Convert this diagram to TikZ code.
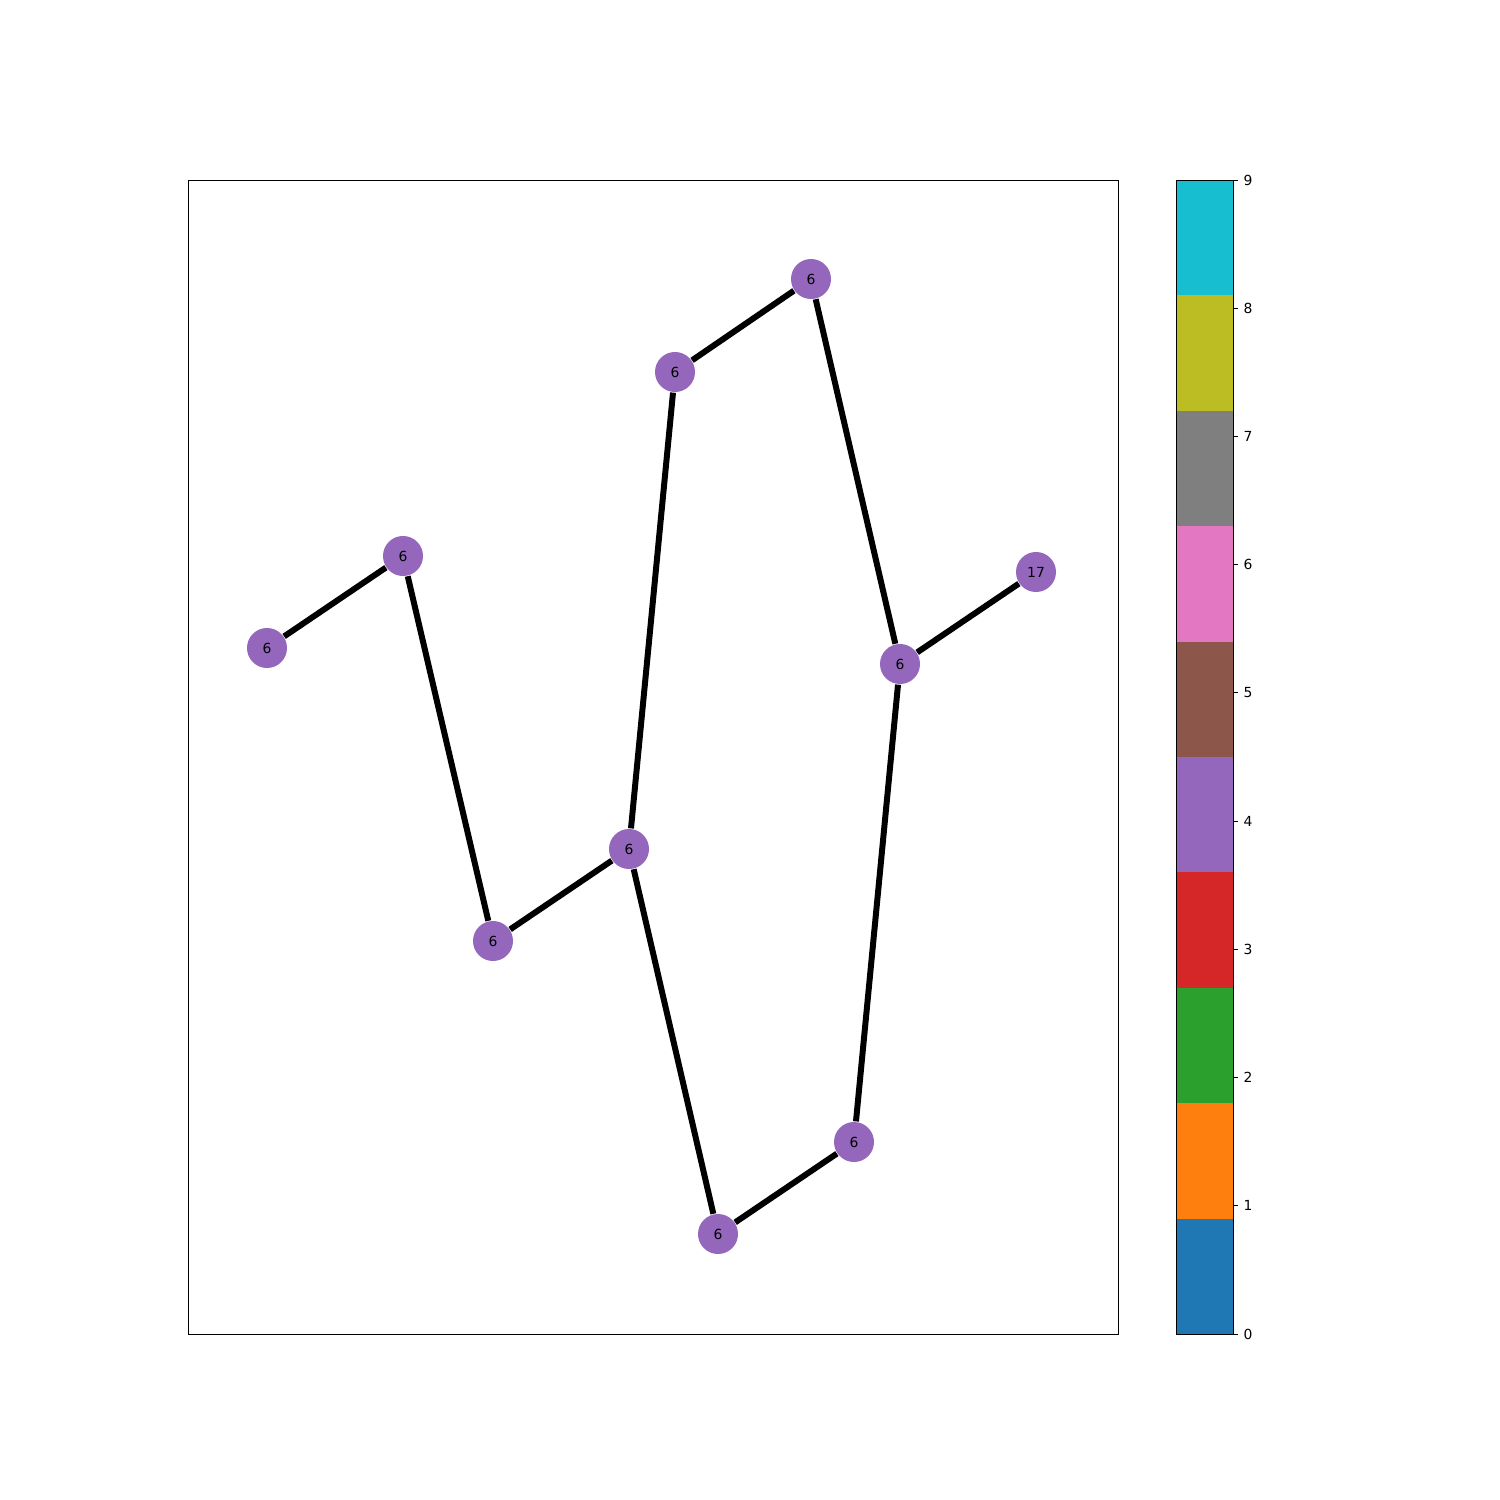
\documentclass[tikz,border=0pt]{standalone}
\usepackage{fontspec}
\setmainfont{DejaVu Sans}
\definecolor{c0}{HTML}{1F77B4}
\definecolor{c1}{HTML}{FF7F0E}
\definecolor{c2}{HTML}{2CA02C}
\definecolor{c3}{HTML}{D62728}
\definecolor{c4}{HTML}{9467BD}
\definecolor{c5}{HTML}{8C564B}
\definecolor{c6}{HTML}{E377C2}
\definecolor{c7}{HTML}{7F7F7F}
\definecolor{c8}{HTML}{BCBD22}
\definecolor{c9}{HTML}{17BECF}
\begin{document}
\begin{tikzpicture}[x=0.01cm,y=-0.01cm,
  vtx/.style={circle,fill=c4,minimum size=0.4cm,inner sep=0pt,font=\fontsize{3.95}{4.7}\selectfont},
  edge/.style={line width=1.7pt,black},
  tick/.style={font=\fontsize{3.95}{4.7}\selectfont,anchor=west,inner sep=0pt}]
\useasboundingbox (0,0) rectangle (1500,1500);
\draw[line width=0.23pt] (188,180) rectangle (1118,1334);
% colorbar
\foreach \i in {0,...,9}{
  \fill[c\i] (1176,{1334-\i*115.4}) rectangle (1233,{1334-(\i+1)*115.4});
}
\draw[line width=0.23pt] (1176,180) rectangle (1233,1334);
\foreach \i in {0,...,9}{
  \draw[line width=0.23pt] (1233,{1334-\i*128.222}) -- (1238,{1334-\i*128.222});
  \node[tick] (t\i) at (1243,{1334-\i*128.222}) {\i};
}
\node[vtx] (a) at (267,648) {6};
\node[vtx] (b) at (403,556) {6};
\node[vtx] (c) at (493,941) {6};
\node[vtx] (d) at (629,849) {6};
\node[vtx] (e) at (675,372) {6};
\node[vtx] (f) at (811,279) {6};
\node[vtx] (g) at (900,664) {6};
\node[vtx] (h) at (1036,572) {17};
\node[vtx] (i) at (718,1234) {6};
\node[vtx] (j) at (854,1142) {6};
\begin{scope}[on background layer/.style={}]
\end{scope}
\foreach \u/\v in {a/b,b/c,c/d,d/e,e/f,f/g,g/h,d/i,i/j,j/g}{
  \draw[edge] (\u) -- (\v);
}
\end{tikzpicture}
\end{document}
